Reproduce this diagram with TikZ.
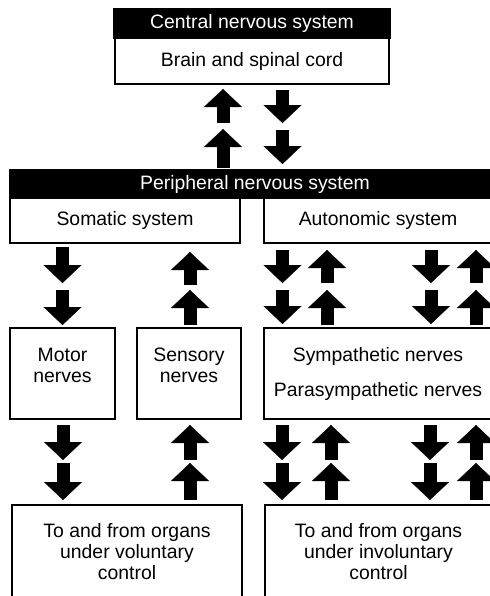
\documentclass[tikz,border=0pt]{standalone}
\usepackage{fontspec}
\setmainfont{Liberation Sans}
\usetikzlibrary{arrows.meta}
\begin{document}
\begin{tikzpicture}[x=0.5pt,y=-0.5pt,
  box/.style={draw,line width=1pt,inner sep=0pt,align=center,
    font=\fontsize{9.7}{10.5}\selectfont},
  bar/.style={box,fill=black,text=white},
  blk/.style={line width=6.5pt,
    -{Triangle[width=19pt,length=9pt,line width=0.1pt]}}]
\useasboundingbox (0,0) rectangle (490,596);
\clip (0,0) rectangle (490,596);
\node[bar,minimum width=138pt,minimum height=14.5pt] (cns) at (252,23.5) {Central nervous system};
\node[box,minimum width=137pt,minimum height=23pt] (brain) at (252,61) {Brain and spinal cord};
\node[bar,minimum width=245pt,minimum height=14pt] (pns) at (255,184) {Peripheral nervous system};
\node[box,minimum width=115pt,minimum height=22.5pt] (somatic) at (125,220.5) {Somatic system};
\node[box,minimum width=114pt,minimum height=22.5pt] (autonomic) at (378,220.5) {Autonomic system};
\node[box,minimum width=52.5pt,minimum height=45.5pt,text depth=8pt] (motor) at (62.5,373.5) {Motor\\nerves};
\node[box,minimum width=52pt,minimum height=45.5pt,text depth=8pt] (sensory) at (189,373.5) {Sensory\\nerves};
\node[box,minimum width=114pt,minimum height=45.5pt] (sympath) at (378,373.5) {Sympathetic nerves\\[7pt]Parasympathetic nerves};
\node[box,minimum width=115pt,minimum height=46.5pt] (voluntary) at (127,551.5) {To and from organs\\under voluntary\\control};
\node[box,minimum width=113.5pt,minimum height=46.5pt] (involuntary) at (378.5,551.5) {To and from organs\\under involuntary\\control};
% brain <-> peripheral
\coordinate (cu1s) at (223,123); \coordinate (cu1e) at (223,89);
\draw[blk] (cu1s) -- (cu1e);
\coordinate (cu2s) at (223,168); \coordinate (cu2e) at (223,129);
\draw[blk] (cu2s) -- (cu2e);
\coordinate (cd1s) at (282.5,90); \coordinate (cd1e) at (282.5,123);
\draw[blk] (cd1s) -- (cd1e);
\coordinate (cd2s) at (282.5,130); \coordinate (cd2e) at (282.5,164);
\draw[blk] (cd2s) -- (cd2e);
% systems <-> nerves
\coordinate (md1s) at (62.5,247); \coordinate (md1e) at (62.5,283);
\draw[blk] (md1s) -- (md1e);
\coordinate (md2s) at (62.5,290); \coordinate (md2e) at (62.5,325);
\draw[blk] (md2s) -- (md2e);
\coordinate (su1s) at (190,285); \coordinate (su1e) at (190,252);
\draw[blk] (su1s) -- (su1e);
\coordinate (su2s) at (190,325); \coordinate (su2e) at (190,290);
\draw[blk] (su2s) -- (su2e);
\coordinate (ad1s) at (282.5,250); \coordinate (ad1e) at (282.5,283);
\draw[blk] (ad1s) -- (ad1e);
\coordinate (ad2s) at (282.5,290); \coordinate (ad2e) at (282.5,324);
\draw[blk] (ad2s) -- (ad2e);
\coordinate (au1s) at (327,283); \coordinate (au1e) at (327,250);
\draw[blk] (au1s) -- (au1e);
\coordinate (au2s) at (327,325); \coordinate (au2e) at (327,290);
\draw[blk] (au2s) -- (au2e);
\coordinate (bd1s) at (431,250); \coordinate (bd1e) at (431,283);
\draw[blk] (bd1s) -- (bd1e);
\coordinate (bd2s) at (431,290); \coordinate (bd2e) at (431,324);
\draw[blk] (bd2s) -- (bd2e);
\coordinate (bu1s) at (476,283); \coordinate (bu1e) at (476,250);
\draw[blk] (bu1s) -- (bu1e);
\coordinate (bu2s) at (476,325); \coordinate (bu2e) at (476,290);
\draw[blk] (bu2s) -- (bu2e);
% nerves <-> organs
\coordinate (vd1s) at (63,425); \coordinate (vd1e) at (63,460);
\draw[blk] (vd1s) -- (vd1e);
\coordinate (vd2s) at (63,463); \coordinate (vd2e) at (63,500);
\draw[blk] (vd2s) -- (vd2e);
\coordinate (vu1s) at (190,460); \coordinate (vu1e) at (190,425);
\draw[blk] (vu1s) -- (vu1e);
\coordinate (vu2s) at (190,500); \coordinate (vu2e) at (190,463);
\draw[blk] (vu2s) -- (vu2e);
\coordinate (id1s) at (282,425); \coordinate (id1e) at (282,460);
\draw[blk] (id1s) -- (id1e);
\coordinate (id2s) at (282,463); \coordinate (id2e) at (282,500);
\draw[blk] (id2s) -- (id2e);
\coordinate (iu1s) at (331,460); \coordinate (iu1e) at (331,425);
\draw[blk] (iu1s) -- (iu1e);
\coordinate (iu2s) at (331,500); \coordinate (iu2e) at (331,463);
\draw[blk] (iu2s) -- (iu2e);
\coordinate (jd1s) at (430,425); \coordinate (jd1e) at (430,460);
\draw[blk] (jd1s) -- (jd1e);
\coordinate (jd2s) at (430,463); \coordinate (jd2e) at (430,500);
\draw[blk] (jd2s) -- (jd2e);
\coordinate (ju1s) at (476,460); \coordinate (ju1e) at (476,425);
\draw[blk] (ju1s) -- (ju1e);
\coordinate (ju2s) at (476,500); \coordinate (ju2e) at (476,463);
\draw[blk] (ju2s) -- (ju2e);
\end{tikzpicture}
\end{document}
